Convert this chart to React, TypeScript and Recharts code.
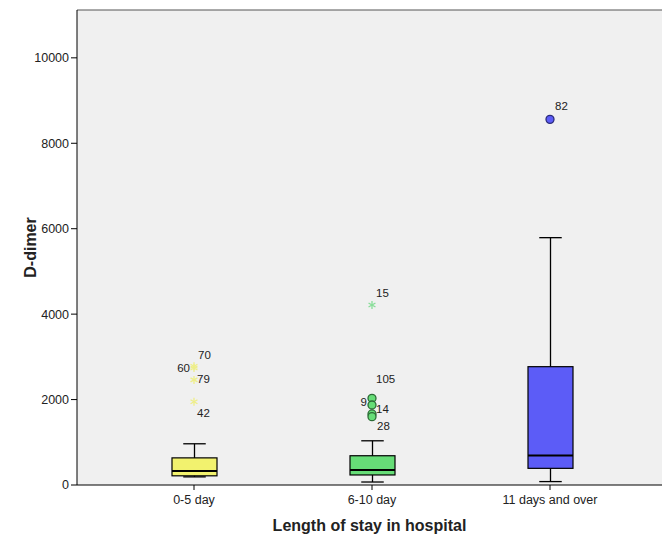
import React from 'react';
import { ComposedChart, Bar, Scatter, XAxis, YAxis, CartesianGrid, ReferenceLine } from 'recharts';

const categories = ['0-5 day', '6-10 day', '11 days and over'];
const whiskerLow = [190, 70, 80];
const quartile1 = [215, 235, 390];
const medians = [325, 350, 690];
const quartile3 = [635, 685, 2770];
const whiskerHigh = [965, 1035, 5790];
const boxColors = ['#f2f26e', '#66dd77', '#5c5cf7'];

const yTicks = [0, 2000, 4000, 6000, 8000, 10000];
const yMax = 11120;

// outliers: category index, value, case id
const starCats = [0, 0, 0, 0, 1];
const starValues = [2780, 2740, 2460, 1950, 4215];
const starIds = ['70', '60', '79', '42', '15'];

const circleCats = [1, 1, 1, 1, 2];
const circleValues = [2030, 1873, 1663, 1600, 8560];
const circleIds = ['105', '9', '14', '28', '82'];

const labelOffsets: Record<string, { dx: number; dy: number; anchor: 'start' | 'end' }> = {
  '70': { dx: 4, dy: -10, anchor: 'start' },
  '60': { dx: -4, dy: 1, anchor: 'end' },
  '79': { dx: 3, dy: 0, anchor: 'start' },
  '42': { dx: 3, dy: 12, anchor: 'start' },
  '15': { dx: 4, dy: -11, anchor: 'start' },
  '105': { dx: 4, dy: -18, anchor: 'start' },
  '9': { dx: -5, dy: -2, anchor: 'end' },
  '14': { dx: 4, dy: -4, anchor: 'start' },
  '28': { dx: 5, dy: 10, anchor: 'start' },
  '82': { dx: 5, dy: -12, anchor: 'start' },
};

const boxData = categories.map((cat, i) => ({
  cat,
  min: whiskerLow[i],
  q1: quartile1[i],
  median: medians[i],
  q3: quartile3[i],
  max: whiskerHigh[i],
  color: boxColors[i],
}));

const starData = starValues.map((value, i) => ({
  cat: categories[starCats[i]],
  value,
  id: starIds[i],
  color: starCats[i] === 0 ? '#eeee88' : '#88dd99',
}));

const circleData = circleValues.map((value, i) => ({
  cat: categories[circleCats[i]],
  value,
  id: circleIds[i],
  color: boxColors[circleCats[i]],
  stroke: circleCats[i] === 1 ? '#2c6b36' : '#2a2a7a',
}));

const font = '"Liberation Sans", Arial, sans-serif';

const BoxShape = (props: any) => {
  const { x, y, width, height, payload } = props;
  const { min, q1, median, q3, max, color } = payload;
  const k = height / (max - min);
  const py = (v: number) => y + (max - v) * k;
  const cx = x + width / 2;
  const cap = width / 4;
  return (
    <g>
      <line x1={cx} x2={cx} y1={py(max)} y2={py(min)} stroke="#000" strokeWidth={1.3} />
      <line x1={cx - cap} x2={cx + cap} y1={py(max)} y2={py(max)} stroke="#000" strokeWidth={1.3} />
      <line x1={cx - cap} x2={cx + cap} y1={py(min)} y2={py(min)} stroke="#000" strokeWidth={1.3} />
      <rect x={x} y={py(q3)} width={width} height={py(q1) - py(q3)} fill={color} stroke="#000" strokeWidth={1.2} />
      <line x1={x} x2={x + width} y1={py(median)} y2={py(median)} stroke="#000" strokeWidth={2} />
    </g>
  );
};

const PointLabel = ({ cx, cy, id }: { cx: number; cy: number; id: string }) => {
  const o = labelOffsets[id];
  return (
    <text x={cx + o.dx} y={cy + o.dy} textAnchor={o.anchor} dominantBaseline="middle" fontSize={11.5} fontFamily={font} fill="#222">
      {id}
    </text>
  );
};

const StarShape = (props: any) => {
  const { cx, cy, payload } = props;
  const r = 4;
  const spokes = [0, 60, 120].map((a) => {
    const rad = (a * Math.PI) / 180;
    return (
      <line
        key={a}
        x1={cx - r * Math.sin(rad)}
        y1={cy - r * Math.cos(rad)}
        x2={cx + r * Math.sin(rad)}
        y2={cy + r * Math.cos(rad)}
        stroke={payload.color}
        strokeWidth={1.3}
      />
    );
  });
  return (
    <g>
      {spokes}
      <PointLabel cx={cx} cy={cy} id={payload.id} />
    </g>
  );
};

const CircleShape = (props: any) => {
  const { cx, cy, payload } = props;
  return (
    <g>
      <circle cx={cx} cy={cy} r={4} fill={payload.color} stroke={payload.stroke} strokeWidth={1.3} />
      <PointLabel cx={cx} cy={cy} id={payload.id} />
    </g>
  );
};

export default function App() {
  return (
    <div style={{ position: 'absolute', left: 0, top: 0, background: '#fff' }}>
      <ComposedChart width={662} height={536} data={boxData} margin={{ top: 10, right: 0, bottom: 0, left: 0 }}>
        <CartesianGrid fill="#f0f0f0" horizontal={false} vertical={false} />
        <XAxis
          dataKey="cat"
          type="category"
          allowDuplicatedCategory={false}
          padding={{ left: 28, right: 23 }}
          height={51}
          tickSize={5}
          axisLine={{ stroke: '#000' }}
          tickLine={{ stroke: '#000' }}
          tick={{ fontSize: 12.5, fontFamily: font, fill: '#222', dy: 3 }}
          label={{ value: 'Length of stay in hospital', position: 'insideBottom', offset: 5, fontSize: 16, fontWeight: 'bold', fontFamily: font, fill: '#222' }}
        />
        <YAxis
          type="number"
          domain={[0, yMax]}
          ticks={yTicks}
          width={77}
          tickSize={6}
          axisLine={{ stroke: '#000' }}
          tickLine={{ stroke: '#000' }}
          tick={{ fontSize: 12.5, fontFamily: font, fill: '#222' }}
          label={{ value: 'D-dimer', angle: -90, position: 'insideLeft', offset: 30, textAnchor: 'middle', fontSize: 16, fontWeight: 'bold', fontFamily: font, fill: '#222' }}
        />
        <ReferenceLine y={yMax} stroke="#555" strokeWidth={1} ifOverflow="visible" />
        <Bar dataKey={(d: any) => [d.min, d.max]} barSize={45} shape={BoxShape} isAnimationActive={false} />
        <Scatter data={starData} dataKey="value" shape={StarShape} isAnimationActive={false} />
        <Scatter data={circleData} dataKey="value" shape={CircleShape} isAnimationActive={false} />
      </ComposedChart>
    </div>
  );
}
